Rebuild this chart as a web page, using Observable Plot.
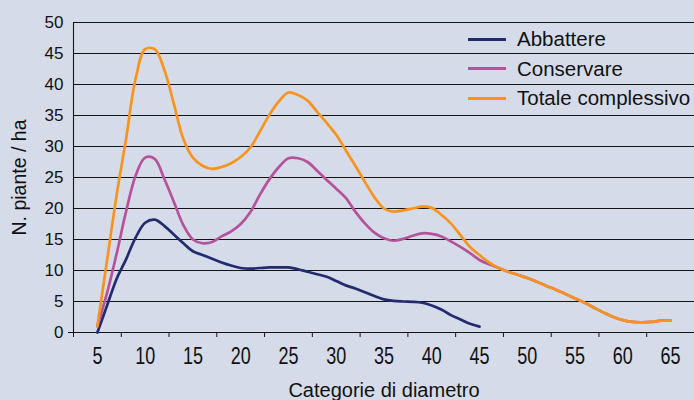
<!DOCTYPE html>
<html>
<head>
<meta charset="utf-8">
<script src="https://cdn.jsdelivr.net/npm/d3@7"></script>
<script src="https://cdn.jsdelivr.net/npm/@observablehq/plot@0.6"></script>
<style>
  html, body { margin: 0; padding: 0; background: #d5dbe8; }
  #wrap { position: relative; width: 694px; height: 400px; overflow: hidden; font-family: "Liberation Sans", Arial, sans-serif; }
  .leg { position: absolute; left: 468px; height: 30px; display: flex; align-items: center; font-size: 20.5px; color: #111; white-space: nowrap; }
  .leg span.sw { display: inline-block; width: 38px; height: 3px; margin-right: 11px; }
</style>
</head>
<body>
<div id="wrap"></div>
<script>
// Diameter classes (cm)
const diam = [5,6,7,8,9,10,11,12,13,14,15,16,17,18,19,20,21,22,23,24,25,26,27,28,29,30,31,32,33,34,35,36,37,38,39,40,41,42,43,44,45,46,47,48,49,50,51,52,53,54,55,56,57,58,59,60,61,62,63,64,65];

// N. piante / ha per class
const abbattere = [0,4.3,8.6,11.8,15.3,17.7,18.2,17.2,15.8,14.4,13.1,12.5,11.9,11.3,10.8,10.4,10.3,10.4,10.5,10.5,10.5,10.2,9.8,9.4,9.0,8.3,7.6,7.1,6.5,5.9,5.35,5.1,5.0,4.95,4.8,4.35,3.7,2.8,2.1,1.4,0.95];
const conservare = [1.0,6.3,12.6,19.5,25.3,28.2,28.0,24.8,21.1,17.3,15.0,14.4,14.6,15.5,16.3,17.5,19.4,22.2,24.7,26.7,28.1,28.1,27.5,26.1,24.6,23.2,21.7,19.5,17.6,16.1,15.2,14.8,15.1,15.6,16.0,15.9,15.5,14.7,13.8,12.8,11.7,11.0,10.4,9.8,9.3,8.8,8.2,7.5,6.9,6.2,5.5,4.8,4.0,3.2,2.5,2.0,1.7,1.65,1.7,1.9,1.9];
const totale = [1.0,11.5,22.0,31.2,40.9,45.7,45.7,42.4,36.9,31.2,28.2,26.9,26.4,26.7,27.3,28.3,29.8,32.4,35.1,37.3,38.7,38.3,37.4,35.6,33.8,31.9,29.4,26.9,24.3,21.8,20.0,19.5,19.7,20.0,20.3,20.1,19.0,17.6,15.7,13.8,12.5,11.3,10.4,9.8,9.3,8.8,8.2,7.5,6.9,6.2,5.5,4.8,4.0,3.2,2.5,2.0,1.7,1.65,1.7,1.9,1.9];

const seriesNames = ["Abbattere", "Conservare", "Totale complessivo"];
const seriesColors = ["#232b6f", "#b6529b", "#f7941d"];
const seriesValues = [abbattere, conservare, totale];

const xLabels = [5,10,15,20,25,30,35,40,45,50,55,60,65];
const xTickMarks = [2.5,7.5,12.5,17.5,22.5,27.5,32.5,37.5,42.5,47.5,52.5,57.5,62.5,67.5];
const yTicks = [0,5,10,15,20,25,30,35,40,45,50];
const yGrid = [5,10,15,20,25,30,35,40,45,50];

const rows = seriesValues.map((vals) => vals.map((v, i) => ({d: diam[i], v})));

const chart = Plot.plot({
  width: 694,
  height: 400,
  marginLeft: 73,
  marginRight: 0,
  marginTop: 22,
  marginBottom: 68,
  style: {background: "#d5dbe8", fontFamily: "'Liberation Sans', Arial, sans-serif", color: "#111", overflow: "visible"},
  x: {domain: [2.5, 67.5], label: null},
  y: {domain: [0, 50], label: null},
  marks: [
    Plot.ruleY(yGrid, {stroke: "#141414", strokeWidth: 1.1}),
    Plot.ruleY([0], {stroke: "#141414", strokeWidth: 1.1}),
    Plot.ruleX([2.5], {y1: 0, y2: 50, stroke: "#141414", strokeWidth: 1.1}),
    Plot.axisY({ticks: [0], tickSize: 5, tickFormat: () => "", stroke: "#141414", label: null}),
    Plot.axisY({ticks: yTicks, tickSize: 0, tickPadding: 10, fontSize: 17, label: null}),
    Plot.axisX({ticks: xTickMarks, tickSize: 5, tickFormat: () => "", stroke: "#141414", label: null}),
    Plot.axisX({ticks: xLabels, tickSize: 0, tickPadding: 15, fontSize: 18, label: null}),
    Plot.text(["N. piante / ha"], {frameAnchor: "left", textAnchor: "middle", lineAnchor: "middle", rotate: -90, dx: -54, fontSize: 19.5, fill: "#111"}),
    Plot.text(["Categorie di diametro"], {frameAnchor: "bottom", textAnchor: "middle", lineAnchor: "middle", dy: 58, fontSize: 20, fill: "#111"}),
    ...rows.map((r, k) => Plot.line(r, {x: "d", y: "v", stroke: seriesColors[k], strokeWidth: 2.7, curve: "catmull-rom"}))
  ]
});

const wrap = document.getElementById("wrap");
wrap.appendChild(chart);

// condensed look of the x tick labels: stretch each label vertically about its anchor
const labelSet = new Set(xLabels.map(String));
chart.querySelectorAll("text").forEach((t) => {
  const g = t.closest("g[aria-label]");
  const aria = g ? g.getAttribute("aria-label") : "";
  if (!aria.startsWith("x-axis") || !labelSet.has(t.textContent.trim())) return;
  const s = 1.3;
  const tr = t.getAttribute("transform");
  if (tr) {
    t.setAttribute("transform", tr + ` scale(1,${s})`);
  } else {
    const x = +t.getAttribute("x") || 0, y = +t.getAttribute("y") || 0;
    t.removeAttribute("x"); t.removeAttribute("y");
    t.setAttribute("transform", `translate(${x},${y}) scale(1,${s})`);
  }
});

const legendY = [39, 68.5, 98];
seriesNames.forEach((name, i) => {
  const row = document.createElement("div");
  row.className = "leg";
  row.style.top = (legendY[i] - 15) + "px";
  const sw = document.createElement("span");
  sw.className = "sw";
  sw.style.background = seriesColors[i];
  row.appendChild(sw);
  row.appendChild(document.createTextNode(name));
  wrap.appendChild(row);
});
</script>
</body>
</html>
